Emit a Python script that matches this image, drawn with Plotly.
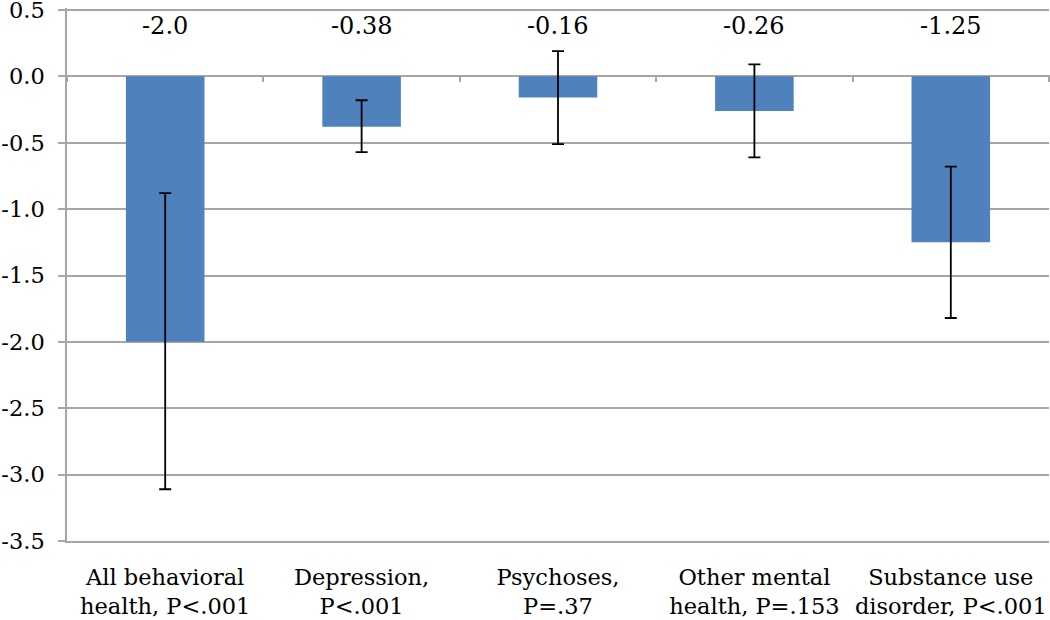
import plotly.graph_objects as go

categories = ["All behavioral<br>health, P<.001", "Depression,<br>P<.001", "Psychoses,<br>P=.37",
              "Other mental<br>health, P=.153", "Substance use<br>disorder, P<.001"]
values = [-2.0, -0.38, -0.16, -0.26, -1.25]
ci_low = [-3.11, -0.57, -0.51, -0.61, -1.82]
ci_high = [-0.88, -0.18, 0.19, 0.09, -0.68]
value_labels = ["-2.0", "-0.38", "-0.16", "-0.26", "-1.25"]
tick_vals = [0.5, 0.0, -0.5, -1.0, -1.5, -2.0, -2.5, -3.0, -3.5]
tick_text = ["0.5", "0.0", "-0.5", "-1.0", "-1.5", "-2.0", "-2.5", "-3.0", "-3.5"]

FONT = "DejaVu Serif, serif"
GRID = "#A6A6A6"

err_plus = [h - v for h, v in zip(ci_high, values)]
err_minus = [v - l for v, l in zip(values, ci_low)]

fig = go.Figure()
fig.add_trace(go.Bar(
    x=categories, y=values, width=0.4,
    marker=dict(color="#4F81BD", line=dict(width=0)),
    error_y=dict(type="data", symmetric=False, array=err_plus, arrayminus=err_minus,
                 color="black", thickness=1.8, width=6),
    showlegend=False, hoverinfo="skip",
))
# invisible trace on overlay axis for the tick marks at zero
fig.add_trace(go.Scatter(x=categories, y=values, xaxis="x2", mode="markers",
                         marker=dict(opacity=0), showlegend=False, hoverinfo="skip"))

for c, lab in zip(categories, value_labels):
    fig.add_annotation(x=c, y=0.38, text=lab, showarrow=False,
                       font=dict(family=FONT, size=24, color="black"))

fig.update_layout(
    width=1050, height=620,
    margin=dict(l=67, r=1, t=8, b=79),
    paper_bgcolor="white", plot_bgcolor="white",
    font=dict(family=FONT, size=22, color="black"),
    bargap=0.6,
    xaxis=dict(showgrid=False, showline=True, linecolor=GRID, linewidth=1.5,
               ticks="", ticklabelstandoff=15,
               tickfont=dict(family=FONT, size=22.5), automargin=False),
    xaxis2=dict(overlaying="x", matches="x", anchor="free", position=0.8755,
                showgrid=False, showline=False, showticklabels=False,
                ticks="outside", tickson="boundaries", ticklen=7, tickcolor=GRID, tickwidth=1.5),
    yaxis=dict(range=[-3.5, 0.515], tickvals=tick_vals, ticktext=tick_text,
               showgrid=True, gridcolor=GRID, gridwidth=1.5, zeroline=False,
               showline=True, linecolor=GRID, linewidth=1.5,
               ticks="outside", ticklen=7, tickcolor=GRID, tickwidth=1.5,
               ticklabelstandoff=9, ticklabeloverflow="allow",
               tickfont=dict(family=FONT, size=22.5), automargin=False),
)

fig.write_html("out.html", config={"displayModeBar": False},
               post_script="document.body.style.margin='0';")
